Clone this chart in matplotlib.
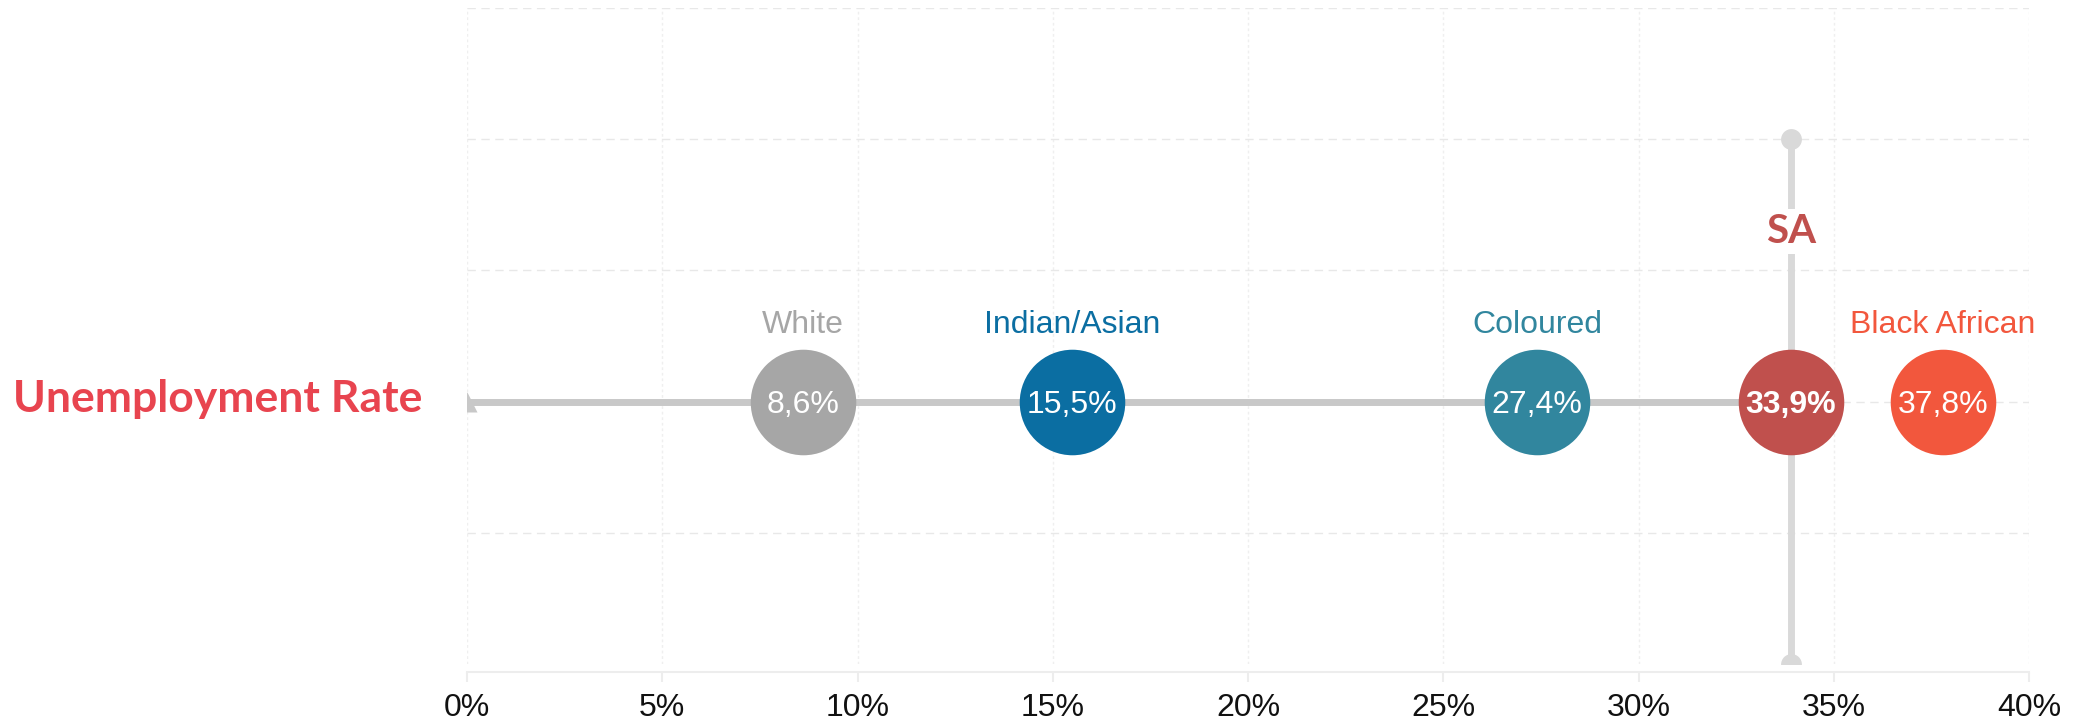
import matplotlib
matplotlib.use("Agg")
import matplotlib.pyplot as plt

# unemployment rate by population group (%)
groups = ["White", "Indian/Asian", "Coloured", "SA", "Black African"]
rates = [8.6, 15.5, 27.4, 33.9, 37.8]
rate_labels = ["8,6%", "15,5%", "27,4%", "33,9%", "37,8%"]
colors = ["#A6A6A6", "#0B6EA2", "#31869E", "#C0504D", "#F2573D"]
xticks = [0, 5, 10, 15, 20, 25, 30, 35, 40]
xtick_labels = ["0%", "5%", "10%", "15%", "20%", "25%", "30%", "35%", "40%"]

W, H = 2074, 727
fig = plt.figure(figsize=(W / 100, H / 100), dpi=100)
ax = fig.add_axes([467 / W, 1 - 664 / H, (2029 - 467) / W, (664 - 8) / H])
ax.set_xlim(0, 40)
ax.set_ylim(0, 5)

# grid
ax.set_yticks([1, 2, 3, 4, 5])
ax.set_yticklabels([])
ax.tick_params(axis="y", length=0)
ax.yaxis.grid(True, color="#E8E8E8", linestyle=(0, (6, 4)), linewidth=1.0)
ax.xaxis.grid(True, color="#EFEFEF", linestyle=(0, (2, 2)), linewidth=1.0)
ax.set_axisbelow(True)

for s in ["left", "top", "right"]:
    ax.spines[s].set_visible(False)
ax.spines["bottom"].set_position(("outward", 6))
ax.spines["bottom"].set_color("#EDEDED")
ax.spines["bottom"].set_linewidth(1.5)

ax.set_xticks(xticks)
ax.set_xticklabels(xtick_labels, fontsize=23, family="Liberation Sans", color="#111111")
ax.tick_params(axis="x", length=7, width=1.5, color="#EDEDED", pad=8)

y0 = 2
sa = groups.index("SA")

# horizontal track up to SA and vertical SA marker line
ax.plot([0, rates[sa]], [y0, y0], color="#C8C8C8", lw=5, solid_capstyle="butt", zorder=2)
ax.plot(0, y0, marker="^", ms=15, color="#C8C8C8", mec="none", zorder=2)
ax.plot([rates[sa], rates[sa]], [0, 4], color="#D9D9D9", lw=5, marker="o", ms=15,
        mec="none", zorder=1.5)

ax.annotate("SA", (rates[sa], 4), xytext=(0, -64), textcoords="offset points",
            ha="center", va="center_baseline", fontsize=29, fontweight="bold",
            family="Lato", color=colors[sa], zorder=2,
            bbox=dict(boxstyle="square,pad=0.1", fc="white", ec="none"))

for i, (g, v, lab, c) in enumerate(zip(groups, rates, rate_labels, colors)):
    ax.plot(v, y0, marker="o", ms=76, color=c, mec="none", zorder=3)
    ax.text(v, y0, lab, ha="center", va="center_baseline", fontsize=23, color="white",
            family="Liberation Sans", fontweight="bold" if i == sa else "normal", zorder=4)
    if i != sa:
        ax.annotate(g, (v, y0), xytext=(0, 58), textcoords="offset points",
                    ha="center", va="center_baseline", fontsize=23, color=c,
                    family="Liberation Sans", annotation_clip=False)

fig.text(218 / W, 1 - 412 / H, "Unemployment Rate", ha="center", va="baseline",
         fontsize=32, fontweight="bold", family="Lato", color="#E8444F")

fig.savefig("out.png", dpi=100)
